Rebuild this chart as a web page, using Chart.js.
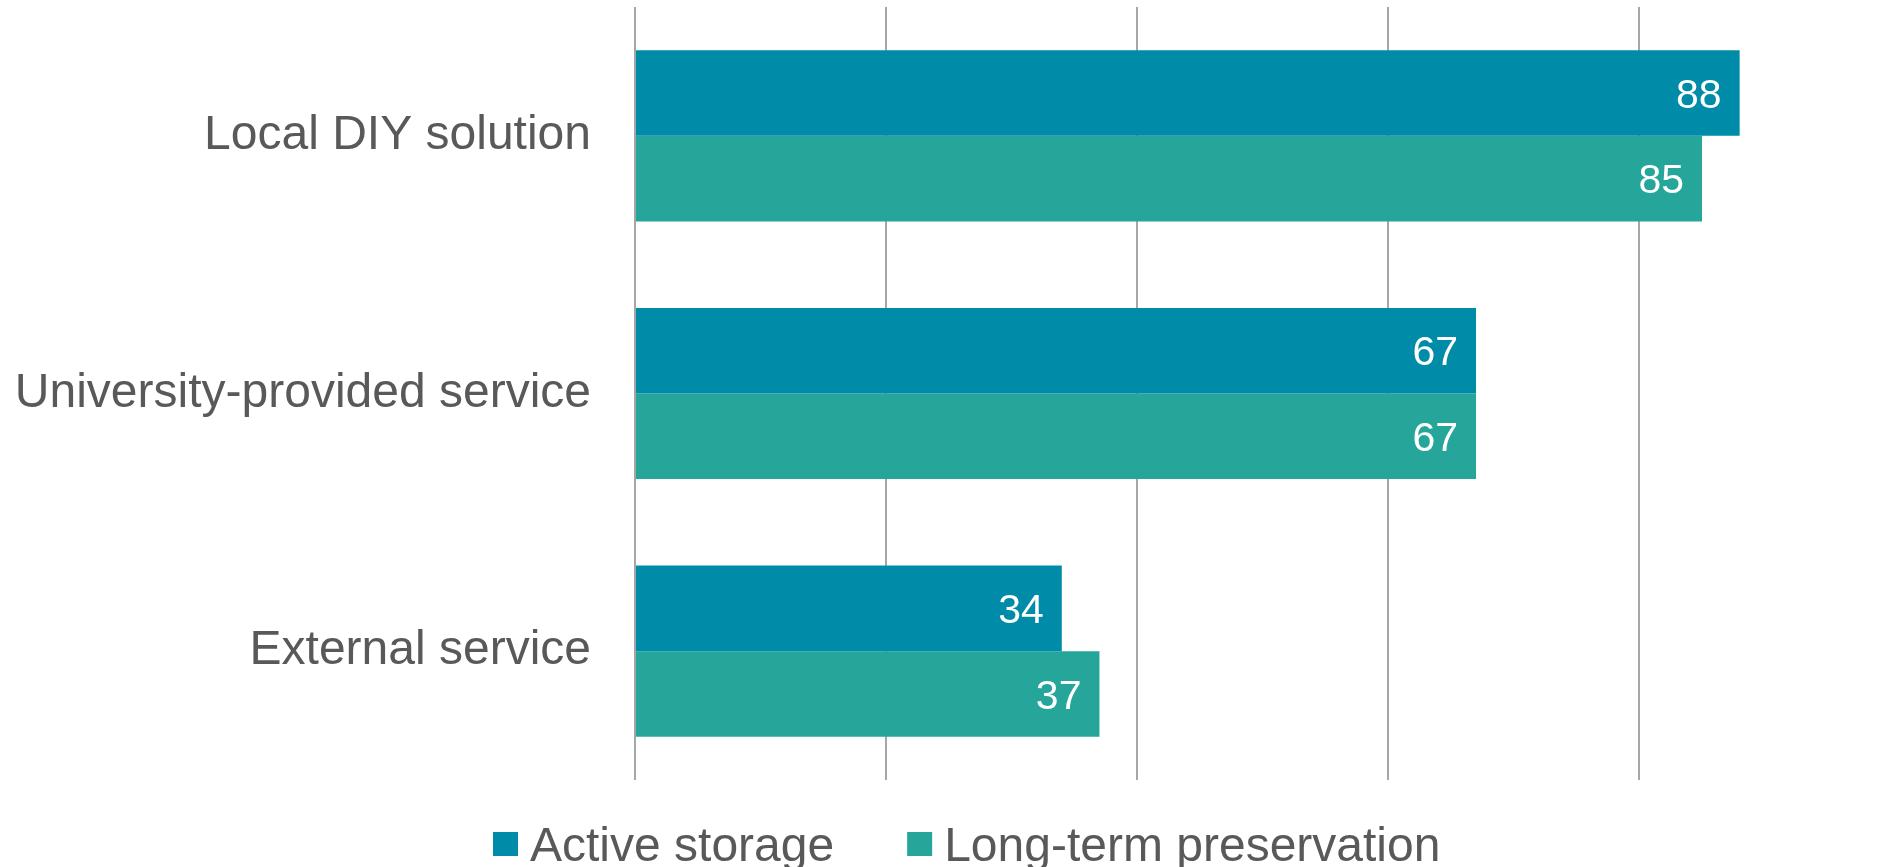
<!DOCTYPE html>
<html>
<head>
<meta charset="utf-8">
<title>Storage solutions</title>
<script src="https://cdn.jsdelivr.net/npm/chart.js@4/dist/chart.umd.min.js"></script>
<style>
  html, body { margin: 0; padding: 0; background: #fff; }
  #chart { display: block; }
</style>
</head>
<body>
<canvas id="chart" width="1884" height="867"></canvas>
<script>
"use strict";
// data
const categories = ["Local DIY solution", "University-provided service", "External service"];
const seriesNames = ["Active storage", "Long-term preservation"];
const activeStorage = [88, 67, 34];
const longTermPreservation = [85, 67, 37];
const gridTicks = [0, 20, 40, 60, 80];

const FONT = "'Liberation Sans', Arial, sans-serif";
const TEXT_COLOR = "#595959";
const COLORS = ["#008ba8", "#26a69a"];

// white value labels at the inside end of each bar
const valueLabels = {
	id: "valueLabels",
	afterDatasetsDraw: function (chart) {
		const ctx = chart.ctx;
		const size = 41;
		ctx.save();
		ctx.font = size + "px " + FONT;
		ctx.fillStyle = "#ffffff";
		ctx.textAlign = "right";
		ctx.textBaseline = "alphabetic";
		chart.data.datasets.forEach(function (ds, i) {
			chart.getDatasetMeta(i).data.forEach(function (bar, j) {
				// centre the digit height on the bar
				ctx.fillText(String(ds.data[j]), bar.x - 18, bar.y + size * 0.36);
			});
		});
		ctx.restore();
	}
};

// legend under the plot (square box, tight gap to the text)
const bottomLegend = {
	id: "bottomLegend",
	afterDraw: function (chart) {
		const ctx = chart.ctx;
		const box = 25, gap = 12, spacing = 73, baseline = 861;
		ctx.save();
		ctx.font = "48px " + FONT;
		ctx.textAlign = "left";
		ctx.textBaseline = "alphabetic";
		const items = chart.data.datasets.map(function (ds) {
			return { label: ds.label, color: ds.backgroundColor, w: ctx.measureText(ds.label).width };
		});
		const total = items.reduce(function (s, it) { return s + box + gap + it.w; }, 0) + spacing * (items.length - 1);
		let x = Math.round(chart.width / 2 + 25 - total / 2);
		items.forEach(function (it) {
			ctx.fillStyle = it.color;
			ctx.fillRect(x, baseline - 29, box, 24);
			ctx.fillStyle = TEXT_COLOR;
			ctx.fillText(it.label, x + box + gap, baseline);
			x += box + gap + it.w + spacing;
		});
		ctx.restore();
	}
};

new Chart(document.getElementById("chart"), {
	type: "bar",
	data: {
		labels: categories,
		datasets: [
			{ label: seriesNames[0], data: activeStorage, backgroundColor: COLORS[0] },
			{ label: seriesNames[1], data: longTermPreservation, backgroundColor: COLORS[1] }
		]
	},
	options: {
		indexAxis: "y",
		responsive: false,
		animation: false,
		devicePixelRatio: 1,
		layout: { padding: { top: 7, right: 0, bottom: 87, left: 0 } },
		datasets: { bar: { categoryPercentage: 0.664, barPercentage: 1, borderWidth: 0 } },
		scales: {
			x: {
				min: 0,
				max: 99.5,
				afterBuildTicks: function (scale) {
					scale.ticks = gridTicks.map(function (v) { return { value: v }; });
				},
				afterFit: function (scale) {
					scale.height = 0;
					scale.paddingLeft = 0;
					scale.paddingRight = 0;
				},
				ticks: { display: false },
				grid: { color: "#a6a6a6", lineWidth: 2, drawTicks: false },
				border: { display: false }
			},
			y: {
				afterFit: function (scale) {
					scale.width = 635;
					scale.paddingTop = 0;
					scale.paddingBottom = 0;
				},
				grid: { display: false, drawTicks: false },
				border: { display: false },
				ticks: { color: TEXT_COLOR, font: { family: FONT, size: 48 }, padding: 44, labelOffset: 0 }
			}
		},
		plugins: {
			legend: { display: false },
			tooltip: { enabled: false }
		}
	},
	plugins: [valueLabels, bottomLegend]
});
</script>
</body>
</html>
